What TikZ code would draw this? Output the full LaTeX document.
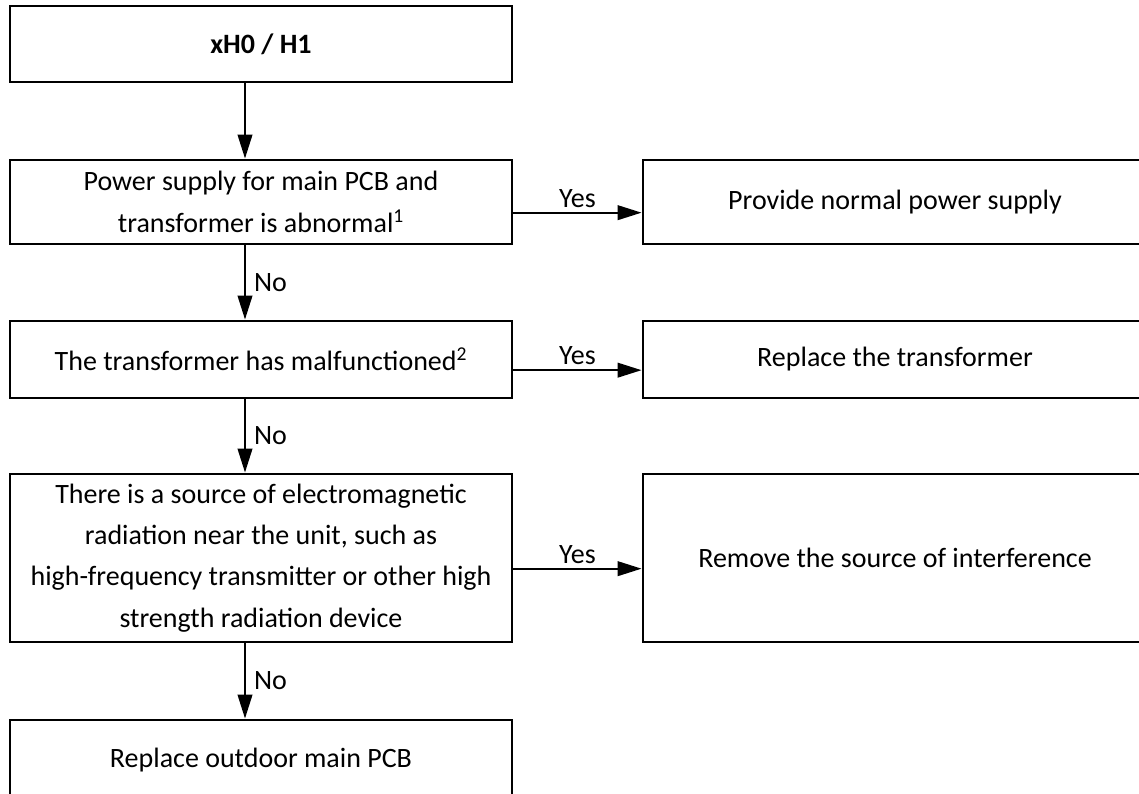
\documentclass[tikz,border=0pt]{standalone}
\usepackage{fontspec}
\setmainfont{Carlito}
\usetikzlibrary{arrows.meta,positioning}

\tikzset{
  box/.style={draw,line width=2.2pt,inner sep=0pt,align=center,
    minimum width=376.5pt,font=\fontsize{21}{31}\selectfont},
  flow/.style={line width=1.5pt,-{Triangle[length=18pt,width=11pt]}},
  tag/.style={font=\fontsize{21}{25}\selectfont,inner sep=2pt}
}

\begin{document}
\begin{tikzpicture}[x=0.75pt,y=-0.75pt]
  \useasboundingbox (0,0) rectangle (1139,793);
  \clip (0,0) rectangle (1139,793);
  \coordinate (spine) at (245,0);
  % left column
  \node[box,minimum height=57pt] (start) at (261,44) {\textbf{xH0 / H1}};
  \node[box,minimum height=63pt] (power) at (261,202)
       {Power supply for main PCB and\\transformer is abnormal\textsuperscript{1}};
  \node[box,minimum height=57.75pt] (trafo) at (261,359.5)
       {The transformer has malfunctioned\textsuperscript{2}};
  \node[box,minimum height=126pt] (emi) at (261,558)
       {There is a source of electromagnetic\\radiation near the unit, such as\\
        high-frequency transmitter or other high\\strength radiation device};
  \node[box,minimum height=60pt] (pcb) at (261,760) {Replace outdoor main PCB};
  % right column
  \node[box,minimum width=378pt,minimum height=63pt] (fixpower) at (895,202)
       {Provide normal power supply};
  \node[box,minimum width=378pt,minimum height=57.75pt] (fixtrafo) at (895,359.5)
       {Replace the transformer};
  \node[box,minimum width=378pt,minimum height=126pt] (fixemi) at (895,558)
       {Remove the source of interference};
  % no branch
  \draw[flow] (start.south -| spine) -- (power.north -| spine);
  \draw[flow] (power.south -| spine) -- node[tag,right=4pt] {No} (trafo.north -| spine);
  \draw[flow] (trafo.south -| spine) -- node[tag,right=4pt] {No} (emi.north -| spine);
  \draw[flow] (emi.south -| spine) -- node[tag,right=4pt] {No} (pcb.north -| spine);
  % yes branch
  \draw[flow] ([yshift=-8pt]power.east) -- node[tag,above=1pt] {Yes} ([yshift=-8pt]fixpower.west);
  \draw[flow] ([yshift=-8pt]trafo.east) -- node[tag,above=1pt] {Yes} ([yshift=-8pt]fixtrafo.west);
  \draw[flow] ([yshift=-8pt]emi.east) -- node[tag,above=1pt] {Yes} ([yshift=-8pt]fixemi.west);
\end{tikzpicture}
\end{document}
